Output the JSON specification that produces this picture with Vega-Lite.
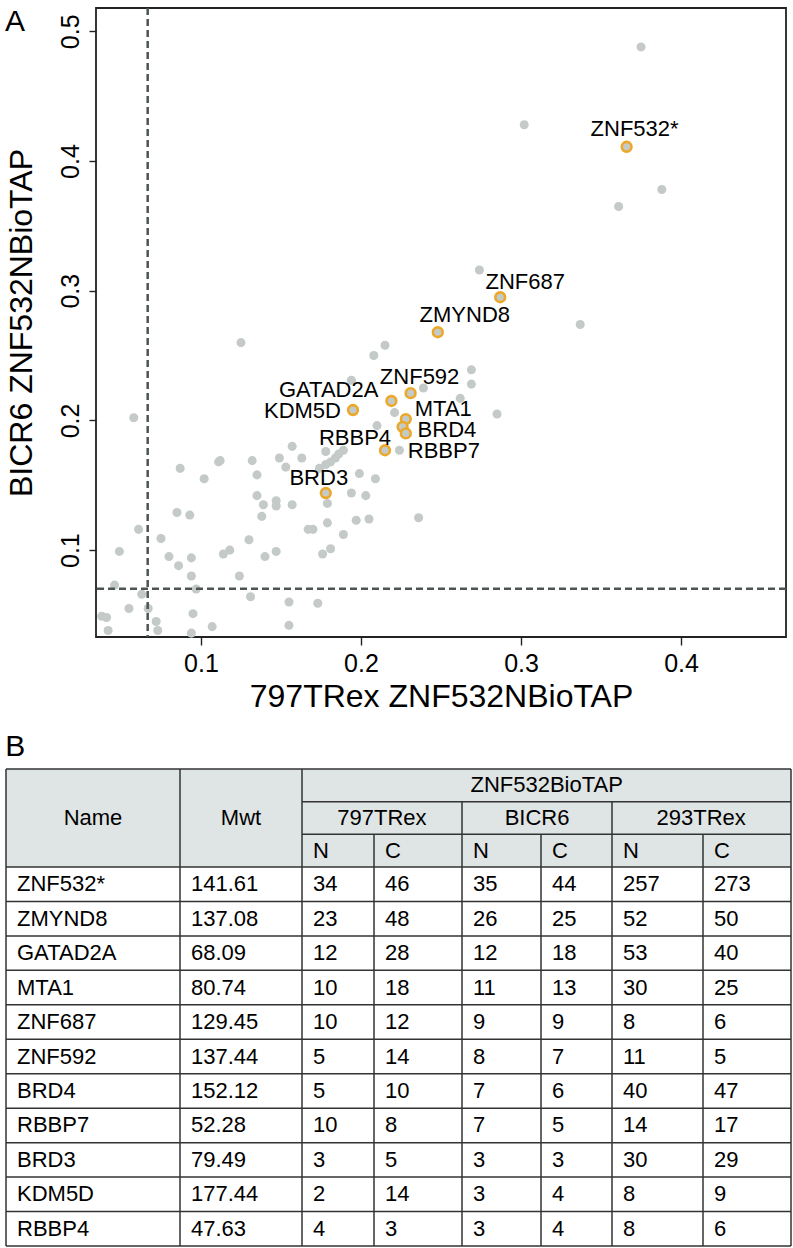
{
  "$schema": "https://vega.github.io/schema/vega-lite/v6.json",
  "padding": {"left": 4, "top": 5, "right": 0, "bottom": 0},
  "background": "white",
  "spacing": 19,
  "config": {
    "font": "Liberation Sans",
    "view": {"stroke": null},
    "title": {"color": "black", "fontWeight": "normal"},
    "axis": {"labelColor": "black", "titleColor": "black", "titleFontWeight": "normal", "grid": false, "domain": false, "tickColor": "#222", "tickWidth": 1.4}
  },
  "datasets": {
    "pts": [
      {"x": 0.058, "y": 0.202}, {"x": 0.157, "y": 0.180}, {"x": 0.178, "y": 0.176}, {"x": 0.189, "y": 0.177},
      {"x": 0.186, "y": 0.174}, {"x": 0.184, "y": 0.171}, {"x": 0.181, "y": 0.168}, {"x": 0.178, "y": 0.166},
      {"x": 0.174, "y": 0.163}, {"x": 0.112, "y": 0.169}, {"x": 0.111, "y": 0.168}, {"x": 0.087, "y": 0.163},
      {"x": 0.132, "y": 0.169}, {"x": 0.149, "y": 0.171}, {"x": 0.163, "y": 0.171}, {"x": 0.153, "y": 0.164},
      {"x": 0.135, "y": 0.158}, {"x": 0.102, "y": 0.155}, {"x": 0.199, "y": 0.159}, {"x": 0.209, "y": 0.155},
      {"x": 0.135, "y": 0.142}, {"x": 0.139, "y": 0.135}, {"x": 0.147, "y": 0.134}, {"x": 0.147, "y": 0.138},
      {"x": 0.157, "y": 0.135}, {"x": 0.179, "y": 0.136}, {"x": 0.194, "y": 0.144}, {"x": 0.203, "y": 0.142},
      {"x": 0.236, "y": 0.125}, {"x": 0.085, "y": 0.129}, {"x": 0.093, "y": 0.127}, {"x": 0.138, "y": 0.126},
      {"x": 0.061, "y": 0.116}, {"x": 0.167, "y": 0.116}, {"x": 0.170, "y": 0.116}, {"x": 0.179, "y": 0.121},
      {"x": 0.197, "y": 0.123}, {"x": 0.205, "y": 0.124}, {"x": 0.189, "y": 0.112}, {"x": 0.075, "y": 0.109},
      {"x": 0.130, "y": 0.108}, {"x": 0.049, "y": 0.099}, {"x": 0.080, "y": 0.095}, {"x": 0.094, "y": 0.094},
      {"x": 0.114, "y": 0.097}, {"x": 0.118, "y": 0.100}, {"x": 0.140, "y": 0.095}, {"x": 0.147, "y": 0.099},
      {"x": 0.181, "y": 0.101}, {"x": 0.176, "y": 0.097}, {"x": 0.086, "y": 0.088}, {"x": 0.094, "y": 0.080},
      {"x": 0.124, "y": 0.080}, {"x": 0.046, "y": 0.073}, {"x": 0.097, "y": 0.070}, {"x": 0.063, "y": 0.066},
      {"x": 0.131, "y": 0.064}, {"x": 0.155, "y": 0.060}, {"x": 0.173, "y": 0.059}, {"x": 0.055, "y": 0.055},
      {"x": 0.067, "y": 0.055}, {"x": 0.038, "y": 0.049}, {"x": 0.041, "y": 0.048}, {"x": 0.095, "y": 0.051},
      {"x": 0.072, "y": 0.045}, {"x": 0.042, "y": 0.038}, {"x": 0.073, "y": 0.038}, {"x": 0.094, "y": 0.036},
      {"x": 0.107, "y": 0.041}, {"x": 0.155, "y": 0.042}, {"x": 0.125, "y": 0.260}, {"x": 0.215, "y": 0.258},
      {"x": 0.208, "y": 0.250}, {"x": 0.194, "y": 0.231}, {"x": 0.239, "y": 0.225}, {"x": 0.221, "y": 0.206},
      {"x": 0.210, "y": 0.196}, {"x": 0.224, "y": 0.177}, {"x": 0.269, "y": 0.239}, {"x": 0.269, "y": 0.228},
      {"x": 0.262, "y": 0.217}, {"x": 0.285, "y": 0.205}, {"x": 0.375, "y": 0.488}, {"x": 0.302, "y": 0.428},
      {"x": 0.388, "y": 0.378}, {"x": 0.361, "y": 0.365}, {"x": 0.274, "y": 0.316}, {"x": 0.337, "y": 0.274},
      {"x": 0.366, "y": 0.411, "name": "ZNF532*"},
      {"x": 0.287, "y": 0.295, "name": "ZNF687"},
      {"x": 0.248, "y": 0.268, "name": "ZMYND8"},
      {"x": 0.231, "y": 0.221, "name": "ZNF592"},
      {"x": 0.219, "y": 0.215, "name": "GATAD2A"},
      {"x": 0.195, "y": 0.208, "name": "KDM5D"},
      {"x": 0.228, "y": 0.201, "name": "MTA1"},
      {"x": 0.226, "y": 0.195, "name": "BRD4"},
      {"x": 0.228, "y": 0.190, "name": "RBBP7"},
      {"x": 0.215, "y": 0.177, "name": "RBBP4"},
      {"x": 0.178, "y": 0.144, "name": "BRD3"}
    ],
    "tab": [
      {"Name": "ZNF532*", "Mwt": 141.61, "N797": 34, "C797": 46, "NB": 35, "CB": 44, "N293": 257, "C293": 273},
      {"Name": "ZMYND8", "Mwt": 137.08, "N797": 23, "C797": 48, "NB": 26, "CB": 25, "N293": 52, "C293": 50},
      {"Name": "GATAD2A", "Mwt": 68.09, "N797": 12, "C797": 28, "NB": 12, "CB": 18, "N293": 53, "C293": 40},
      {"Name": "MTA1", "Mwt": 80.74, "N797": 10, "C797": 18, "NB": 11, "CB": 13, "N293": 30, "C293": 25},
      {"Name": "ZNF687", "Mwt": 129.45, "N797": 10, "C797": 12, "NB": 9, "CB": 9, "N293": 8, "C293": 6},
      {"Name": "ZNF592", "Mwt": 137.44, "N797": 5, "C797": 14, "NB": 8, "CB": 7, "N293": 11, "C293": 5},
      {"Name": "BRD4", "Mwt": 152.12, "N797": 5, "C797": 10, "NB": 7, "CB": 6, "N293": 40, "C293": 47},
      {"Name": "RBBP7", "Mwt": 52.28, "N797": 10, "C797": 8, "NB": 7, "CB": 5, "N293": 14, "C293": 17},
      {"Name": "BRD3", "Mwt": 79.49, "N797": 3, "C797": 5, "NB": 3, "CB": 3, "N293": 30, "C293": 29},
      {"Name": "KDM5D", "Mwt": 177.44, "N797": 2, "C797": 14, "NB": 3, "CB": 4, "N293": 8, "C293": 9},
      {"Name": "RBBP4", "Mwt": 47.63, "N797": 4, "C797": 3, "NB": 3, "CB": 4, "N293": 8, "C293": 6}
    ],
    "cols": [
      {"key": "Name", "c": 0}, {"key": "Mwt", "c": 1}, {"key": "N797", "c": 2}, {"key": "C797", "c": 3},
      {"key": "NB", "c": 4}, {"key": "CB", "c": 5}, {"key": "N293", "c": 6}, {"key": "C293", "c": 7}
    ],
    "hdr": [
      {"t": "Name", "c": 0.5, "r": -1}, {"t": "Mwt", "c": 1.5, "r": -1},
      {"t": "ZNF532BioTAP", "c": 5.08, "r": -2},
      {"t": "797TRex", "c": 3.09, "r": -1}, {"t": "BICR6", "c": 4.95, "r": -1}, {"t": "293TRex", "c": 6.98, "r": -1}
    ],
    "sub": [
      {"t": "N", "c": 2, "r": 0}, {"t": "C", "c": 3, "r": 0}, {"t": "N", "c": 4, "r": 0},
      {"t": "C", "c": 5, "r": 0}, {"t": "N", "c": 6, "r": 0}, {"t": "C", "c": 7, "r": 0}
    ],
    "hlines": [
      {"c0": 0, "c1": 8, "r": -2.5}, {"c0": 2, "c1": 8, "r": -1.5}, {"c0": 2, "c1": 8, "r": -0.5},
      {"c0": 0, "c1": 8, "r": 0.5}, {"c0": 0, "c1": 8, "r": 1.5}, {"c0": 0, "c1": 8, "r": 2.5},
      {"c0": 0, "c1": 8, "r": 3.5}, {"c0": 0, "c1": 8, "r": 4.5}, {"c0": 0, "c1": 8, "r": 5.5},
      {"c0": 0, "c1": 8, "r": 6.5}, {"c0": 0, "c1": 8, "r": 7.5}, {"c0": 0, "c1": 8, "r": 8.5},
      {"c0": 0, "c1": 8, "r": 9.5}, {"c0": 0, "c1": 8, "r": 10.5}, {"c0": 0, "c1": 8, "r": 11.5}
    ],
    "vlines": [
      {"c": 0, "r0": -2.5, "r1": 11.5}, {"c": 1, "r0": -2.5, "r1": 11.5}, {"c": 2, "r0": -2.5, "r1": 11.5},
      {"c": 8, "r0": -2.5, "r1": 11.5}, {"c": 3, "r0": -0.5, "r1": 11.5}, {"c": 4, "r0": -1.5, "r1": 11.5},
      {"c": 5, "r0": -0.5, "r1": 11.5}, {"c": 6, "r0": -1.5, "r1": 11.5}, {"c": 7, "r0": -0.5, "r1": 11.5}
    ]
  },
  "vconcat": [
    {
      "width": 690,
      "height": 629,
      "title": {"text": "A", "anchor": "start", "frame": "bounds", "fontSize": 30, "offset": -30},
      "view": {"stroke": "#222", "strokeWidth": 1.8},
      "layer": [
        {
          "data": {"name": "pts"},
          "mark": {"type": "circle", "size": 82, "color": "#c4cac8", "opacity": 1},
          "encoding": {
            "x": {"field": "x", "type": "quantitative",
              "scale": {"domain": [0.0344, 0.4656], "nice": false, "zero": false},
              "axis": {"values": [0.1, 0.2, 0.3, 0.4], "format": ".1f", "tickSize": 8, "labelPadding": 6, "labelFontSize": 25,
                "title": "797TRex ZNF532NBioTAP", "titleFontSize": 32, "titlePadding": 5}},
            "y": {"field": "y", "type": "quantitative",
              "scale": {"domain": [0.033, 0.518], "nice": false, "zero": false},
              "axis": {"values": [0.1, 0.2, 0.3, 0.4, 0.5], "format": ".1f", "labelAngle": 270, "labelAlign": "center", "labelBaseline": "bottom",
                "tickSize": 7, "labelPadding": 6, "labelFontSize": 25, "minExtent": 44, "maxExtent": 44,
                "title": "BICR6 ZNF532NBioTAP", "titleFontSize": 32, "titlePadding": 14}}
          }
        },
        {
          "data": {"name": "pts"},
          "transform": [{"filter": "datum.name != null"}],
          "mark": {"type": "circle", "size": 95, "fill": "#c4cac8", "stroke": "#eba82a", "strokeWidth": 2.6, "opacity": 1},
          "encoding": {"x": {"field": "x", "type": "quantitative"}, "y": {"field": "y", "type": "quantitative"}}
        },
        {
          "data": {"values": [{}]},
          "mark": {"type": "rule", "color": "#4c5454", "strokeWidth": 2.5, "strokeDash": [7, 4]},
          "encoding": {"x": {"datum": 0.0667, "type": "quantitative"}}
        },
        {
          "data": {"values": [{}]},
          "mark": {"type": "rule", "color": "#4c5454", "strokeWidth": 2.5, "strokeDash": [7, 4]},
          "encoding": {"y": {"datum": 0.0702, "type": "quantitative"}}
        },
        {
          "data": {"name": "pts"},
          "transform": [{"filter": "datum.name === 'ZNF532*'"}],
          "mark": {"type": "text", "align": "center", "baseline": "middle", "dx": 8, "dy": -18, "fontSize": 22},
          "encoding": {"x": {"field": "x", "type": "quantitative"}, "y": {"field": "y", "type": "quantitative"}, "text": {"field": "name"}}
        },
        {
          "data": {"name": "pts"},
          "transform": [{"filter": "datum.name === 'ZNF687'"}],
          "mark": {"type": "text", "align": "center", "baseline": "middle", "dx": 25, "dy": -15, "fontSize": 22},
          "encoding": {"x": {"field": "x", "type": "quantitative"}, "y": {"field": "y", "type": "quantitative"}, "text": {"field": "name"}}
        },
        {
          "data": {"name": "pts"},
          "transform": [{"filter": "datum.name === 'ZMYND8'"}],
          "mark": {"type": "text", "align": "center", "baseline": "middle", "dx": 27, "dy": -17, "fontSize": 22},
          "encoding": {"x": {"field": "x", "type": "quantitative"}, "y": {"field": "y", "type": "quantitative"}, "text": {"field": "name"}}
        },
        {
          "data": {"name": "pts"},
          "transform": [{"filter": "datum.name === 'ZNF592'"}],
          "mark": {"type": "text", "align": "center", "baseline": "middle", "dx": 9, "dy": -16, "fontSize": 22},
          "encoding": {"x": {"field": "x", "type": "quantitative"}, "y": {"field": "y", "type": "quantitative"}, "text": {"field": "name"}}
        },
        {
          "data": {"name": "pts"},
          "transform": [{"filter": "datum.name === 'BRD3'"}],
          "mark": {"type": "text", "align": "center", "baseline": "middle", "dx": -7, "dy": -15, "fontSize": 22},
          "encoding": {"x": {"field": "x", "type": "quantitative"}, "y": {"field": "y", "type": "quantitative"}, "text": {"field": "name"}}
        },
        {
          "data": {"name": "pts"},
          "transform": [{"filter": "datum.name === 'RBBP4'"}],
          "mark": {"type": "text", "align": "center", "baseline": "middle", "dx": -30, "dy": -12, "fontSize": 22},
          "encoding": {"x": {"field": "x", "type": "quantitative"}, "y": {"field": "y", "type": "quantitative"}, "text": {"field": "name"}}
        },
        {
          "data": {"name": "pts"},
          "transform": [{"filter": "datum.name === 'GATAD2A'"}],
          "mark": {"type": "text", "align": "right", "baseline": "middle", "dx": -13, "dy": -11, "fontSize": 22},
          "encoding": {"x": {"field": "x", "type": "quantitative"}, "y": {"field": "y", "type": "quantitative"}, "text": {"field": "name"}}
        },
        {
          "data": {"name": "pts"},
          "transform": [{"filter": "datum.name === 'KDM5D'"}],
          "mark": {"type": "text", "align": "right", "baseline": "middle", "dx": -12, "dy": 1, "fontSize": 22},
          "encoding": {"x": {"field": "x", "type": "quantitative"}, "y": {"field": "y", "type": "quantitative"}, "text": {"field": "name"}}
        },
        {
          "data": {"name": "pts"},
          "transform": [{"filter": "datum.name === 'MTA1'"}],
          "mark": {"type": "text", "align": "left", "baseline": "middle", "dx": 9, "dy": -10, "fontSize": 22},
          "encoding": {"x": {"field": "x", "type": "quantitative"}, "y": {"field": "y", "type": "quantitative"}, "text": {"field": "name"}}
        },
        {
          "data": {"name": "pts"},
          "transform": [{"filter": "datum.name === 'BRD4'"}],
          "mark": {"type": "text", "align": "left", "baseline": "middle", "dx": 15, "dy": 3, "fontSize": 22},
          "encoding": {"x": {"field": "x", "type": "quantitative"}, "y": {"field": "y", "type": "quantitative"}, "text": {"field": "name"}}
        },
        {
          "data": {"name": "pts"},
          "transform": [{"filter": "datum.name === 'RBBP7'"}],
          "mark": {"type": "text", "align": "left", "baseline": "middle", "dx": 2, "dy": 18, "fontSize": 22},
          "encoding": {"x": {"field": "x", "type": "quantitative"}, "y": {"field": "y", "type": "quantitative"}, "text": {"field": "name"}}
        }
      ]
    },
    {
      "width": 695,
      "height": 477,
      "title": {"text": "B", "anchor": "start", "frame": "bounds", "fontSize": 30, "offset": 6},
      "layer": [
        {
          "data": {"values": [{}]},
          "mark": {"type": "rect", "color": "#dfe4e4"},
          "encoding": {
            "x": {"datum": 0, "type": "quantitative",
              "scale": {"domain": [0, 1, 2, 3, 4, 5, 6, 7, 8], "range": [-90, 84, 206, 278, 366, 445, 516, 607, 695], "nice": false, "zero": false},
              "axis": null},
            "x2": {"datum": 8},
            "y": {"datum": -2.5, "type": "quantitative",
              "scale": {"domain": [-2.5, 0.5, 11.5], "range": [0, 98, 477], "nice": false, "zero": false},
              "axis": null},
            "y2": {"datum": 0.5}
          }
        },
        {
          "data": {"name": "hlines"},
          "mark": {"type": "rule", "color": "#333", "strokeWidth": 1.5},
          "encoding": {"x": {"field": "c0", "type": "quantitative"}, "x2": {"field": "c1"}, "y": {"field": "r", "type": "quantitative"}}
        },
        {
          "data": {"name": "vlines"},
          "mark": {"type": "rule", "color": "#333", "strokeWidth": 1.5},
          "encoding": {"x": {"field": "c", "type": "quantitative"}, "y": {"field": "r0", "type": "quantitative"}, "y2": {"field": "r1"}}
        },
        {
          "data": {"name": "hdr"},
          "mark": {"type": "text", "align": "center", "baseline": "middle", "fontSize": 22, "color": "black"},
          "encoding": {"x": {"field": "c", "type": "quantitative"}, "y": {"field": "r", "type": "quantitative"}, "text": {"field": "t"}}
        },
        {
          "data": {"name": "sub"},
          "mark": {"type": "text", "align": "left", "baseline": "middle", "dx": 11, "fontSize": 22, "color": "black"},
          "encoding": {"x": {"field": "c", "type": "quantitative"}, "y": {"field": "r", "type": "quantitative"}, "text": {"field": "t"}}
        },
        {
          "data": {"name": "tab"},
          "transform": [
            {"window": [{"op": "row_number", "as": "r"}]},
            {"fold": ["Name", "Mwt", "N797", "C797", "NB", "CB", "N293", "C293"], "as": ["key", "val"]},
            {"lookup": "key", "from": {"data": {"name": "cols"}, "key": "key", "fields": ["c"]}}
          ],
          "mark": {"type": "text", "align": "left", "baseline": "middle", "dx": 11, "fontSize": 22, "color": "black"},
          "encoding": {"x": {"field": "c", "type": "quantitative"}, "y": {"field": "r", "type": "quantitative"}, "text": {"field": "val", "type": "nominal"}}
        }
      ]
    }
  ]
}
